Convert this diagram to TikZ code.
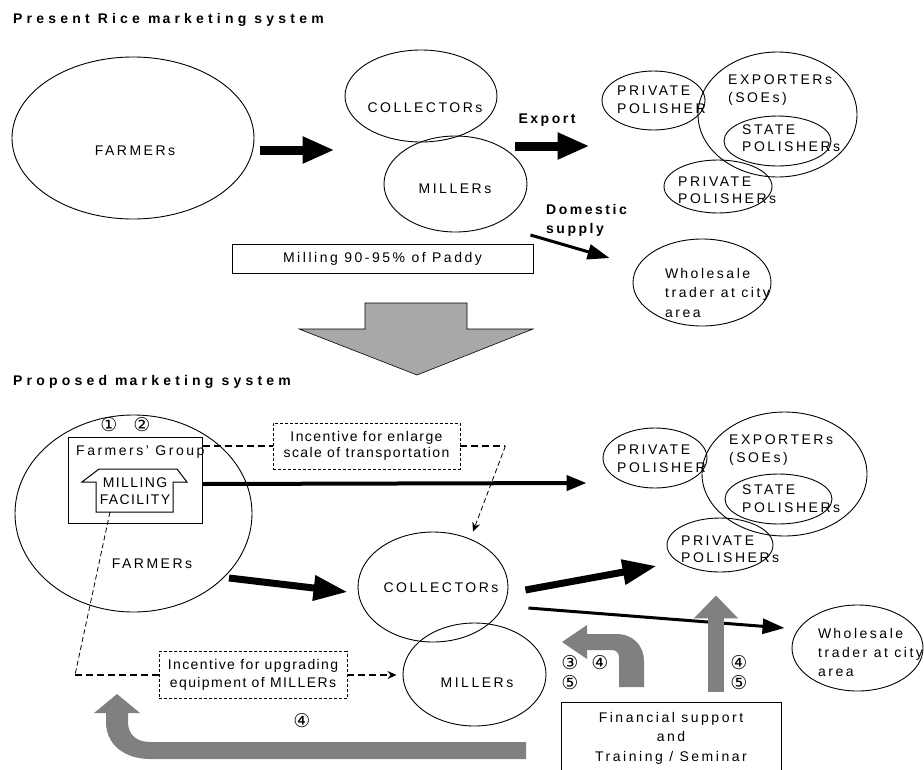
\documentclass[tikz,border=0pt]{standalone}
\usepackage{fontspec}
\setmainfont{Liberation Sans}[LetterSpace=18]
\newfontfamily\titlefont{Liberation Sans}[LetterSpace=30]
\newfontfamily\boxfont{Liberation Sans}[LetterSpace=10]
\newfontfamily\circfont{DejaVu Sans}
\usepackage{tikz}
\usetikzlibrary{positioning,calc,shapes.geometric,arrows.meta}
\definecolor{bargray}{RGB}{128,128,128}
\definecolor{hatchgray}{RGB}{168,168,168}
\tikzset{
  ell/.style={ellipse, draw, line width=0.9pt, inner sep=0pt},
  lbl/.style={inner sep=0pt, align=left, font=\fontsize{14}{18}\selectfont},
  boldlbl/.style={inner sep=0pt, align=left, font=\bfseries\fontsize{14}{19}\selectfont},
  ttl/.style={inner sep=0pt, anchor=base west, font=\titlefont\bfseries\fontsize{14}{16}\selectfont},
  circnum/.style={inner sep=0pt, text height=7pt, text depth=0pt, font=\circfont\fontsize{19}{19}\selectfont},
  solidbox/.style={draw, line width=1pt, inner sep=0pt},
  dbox/.style={draw, line width=0.8pt, dash pattern=on 3pt off 2pt, inner sep=0pt,
    align=center, font=\boxfont\fontsize{14}{16}\selectfont},
  dline/.style={line width=1.3pt, dash pattern=on 7pt off 4pt},
  dthin/.style={line width=0.8pt, dash pattern=on 5pt off 3pt},
  blockarrow/.style={line width=9pt, -{Triangle[width=25pt,length=32pt]}},
  midarrow/.style={line width=7pt, -{Triangle[width=24pt,length=34pt]}},
  thinarrow/.style={line width=3pt, -{Triangle[width=15pt,length=22pt]}},
  grayarrow/.style={line width=16pt, draw=bargray, -{Triangle[width=43pt,length=23pt]}}
}

\begin{document}
\begin{tikzpicture}[x=1pt,y=-1pt]
  \useasboundingbox (0,0) rectangle (924,769);

  % present system
  \node[ttl] (ttlA) at (13,23) {Present Rice m\kern2pt arketing system};
  \node[ell, minimum width=242, minimum height=162] (farmA) at (133,138) {};
  \node[lbl, anchor=base] (farmAt) at (135,155) {FARMERs};
  \node[ell, minimum width=152, minimum height=92] (collA) at (421,96) {};
  \node[lbl, anchor=base] (collAt) at (425,112) {COLLECTORs};
  \node[ell, minimum width=143, minimum height=96] (millA) at (455.5,184) {};
  \node[lbl, anchor=base] (millAt) at (455,193) {MILLERs};

  \node[ell, minimum width=103, minimum height=59] (ppA) at (653.5,100.5) {};
  \node[lbl, anchor=base west] (ppAt) at (617,113) {PRIVATE\\POLISHER};
  \node[ell, minimum width=159, minimum height=125] (expA) at (777.5,114.5) {};
  \node[lbl, anchor=base west] (expAt) at (728,102) {EXPORTERs\\(SOEs)};
  \node[ell, minimum width=107, minimum height=50] (stA) at (777.5,141) {};
  \node[lbl, anchor=base west, font=\fontsize{14}{17}\selectfont] (stAt) at (742,151) {STATE\\POLISHERs};
  \node[ell, minimum width=108, minimum height=53] (ppsA) at (718,186.5) {};
  \node[lbl, anchor=base west, font=\fontsize{14}{17}\selectfont] (ppsAt) at (678,203) {PRIVATE\\POLISHERs};
  \node[ell, minimum width=138, minimum height=87] (wsA) at (702,282.5) {};
  \node[lbl, anchor=base west, font=\fontsize{14}{19.5}\selectfont] (wsAt) at (665,317) {W\kern2pt holesale\\trader at city\\area};

  \node[boldlbl, anchor=base] (expLbl) at (547,123) {Export};
  \node[boldlbl, anchor=base west] (domLbl) at (546,233) {Domestic\\supply};
  \node[solidbox, lbl, minimum width=301, minimum height=29] (millbox) at (382.5,258.5) {Milling 90-95\% of Paddy};

  \draw[blockarrow] ([shift={(6,12)}]farmA.east) -- ([shift={(-10,54)}]collA.west);
  \draw[blockarrow] ([shift={(18,50)}]collA.east) -- ([shift={(-12,45.5)}]ppA.west);
  \draw[thinarrow] ([shift={(3,51)}]millA.east) -- ([shift={(-23,-24.5)}]wsA.west);

  % change arrow
  \filldraw[fill=hatchgray, draw=black, line width=0.6pt] (365,303) -- (467,303) -- (467,329)
    -- (533,329) -- (417,375) -- (299,329) -- (365,329) -- cycle;

  % proposed system
  \node[ttl] (ttlB) at (13,385) {Proposed m\kern2pt arketing system};
  \node[ell, minimum width=237, minimum height=197] (farmB) at (133.5,513.5) {};
  \node[lbl, anchor=base] (farmBt) at (152,568) {FARMERs};
  \node[solidbox, minimum width=134, minimum height=86] (fgroup) at (135,480) {};
  \node[lbl, anchor=base west] (fgroupt) at (76,455) {Farmers' Group};
  \node[circnum] (n1) at (109,428) {①};
  \node[circnum] (n2) at (142,428) {②};
  \draw[line width=1pt] (99,469) -- (177,469) -- (187,482) -- (173,482) -- (173,512)
    -- (96,512) -- (96,482) -- (82,482) -- cycle;
  \coordinate (mfbot) at (110,512);
  \node[lbl, align=center, font=\boxfont\fontsize{14}{17}\selectfont, anchor=base] (millfac) at (135,504) {MILLING\\FACILITY};

  \node[ell, minimum width=150, minimum height=110] (collB) at (433,587) {};
  \node[lbl, anchor=base] (collBt) at (441,592) {COLLECTORs};
  \node[ell, minimum width=143, minimum height=103] (millB) at (474.5,674.5) {};
  \node[lbl, anchor=base] (millBt) at (477,687) {MILLERs};

  \node[ell, minimum width=104, minimum height=60] (ppB) at (655,458) {};
  \node[lbl, anchor=base west] (ppBt) at (617,472) {PRIVATE\\POLISHER};
  \node[ell, minimum width=165, minimum height=124] (expB) at (784.5,474) {};
  \node[lbl, anchor=base west] (expBt) at (729,462) {EXPORTERs\\(SOEs)};
  \node[ell, minimum width=107, minimum height=50] (stB) at (778.5,499) {};
  \node[lbl, anchor=base west] (stBt) at (742,512) {STATE\\POLISHERs};
  \node[ell, minimum width=106, minimum height=54] (ppsB) at (720,545) {};
  \node[lbl, anchor=base west, font=\fontsize{14}{17}\selectfont] (ppsBt) at (681,562) {PRIVATE\\POLISHERs};
  \node[ell, minimum width=131, minimum height=86] (wsB) at (857.5,648) {};
  \node[lbl, anchor=base west, font=\fontsize{14}{19}\selectfont] (wsBt) at (818,676) {W\kern2pt holesale\\trader at city\\area};

  \node[dbox, minimum width=187, minimum height=46] (inc1) at (366.5,446) {Incentive for enlarge\\scale of transportation};
  \node[dbox, minimum width=188, minimum height=47, font=\boxfont\fontsize{14}{18}\selectfont] (inc2) at (253,675) {Incentive for upgrading\\equipment of MILLERs};
  \node[solidbox, lbl, align=center, font=\fontsize{14}{19.5}\selectfont, minimum width=220, minimum height=72] (fin) at (671,738) {Financial support\\and\\Training / Seminar};

  % flows
  \draw[line width=4pt, -{Triangle[width=15pt,length=20pt]}] ([yshift=-4pt]fgroup.east) -- ([shift={(-16,25)}]ppB.west);
  \draw[midarrow] ([shift={(95.5,64.5)}]farmB.center) -- ([shift={(-10,5)}]collB.west);
  \draw[midarrow] ([shift={(17,3)}]collB.east) -- ([shift={(-10,21)}]ppsB.west);
  \draw[thinarrow] ([shift={(20,21)}]collB.east) -- ([shift={(-7,-20)}]wsB.west);

  % incentives
  \draw[dline] (fgroup.east |- inc1.west) -- (inc1.west);
  \draw[dline] (inc1.east) -- ++(45,0) coordinate (bendA);
  \draw[dthin, -{Stealth[length=9pt,width=8pt]}] (bendA) -- ([xshift=40pt]collB.north);
  \coordinate (bendB) at (75,675);
  \draw[dthin] (mfbot) -- (bendB);
  \draw[dline] (bendB) -- (inc2.west);
  \draw[dline, -{Stealth[length=9pt,width=8pt]}, shorten >=6pt] (inc2.east) -- (inc2.east -| millB.west);

  % support
  \draw[grayarrow] ([shift={(45,-10)}]fin.north) -- ([shift={(-4,23)}]ppsB.south);
  \fill[bargray] (644,687) -- (644,662) .. controls (644,645) and (633,634) .. (616,634)
    -- (587,634) -- (587,625) -- (562,642) -- (587,659) -- (587,650) -- (612,650)
    .. controls (616,650) and (619,653) .. (619,657) -- (619,687) -- cycle;
  \fill[bargray] (526,742) -- (150,742) .. controls (137,742) and (128,735) .. (128,722)
    -- (128,713) -- (140,713) -- (117,694) -- (94,713) -- (106,713) -- (106,722)
    .. controls (106,745) and (125,759) .. (150,759) -- (526,759) -- cycle;
  \node[circnum] (n3) at (570,666) {③};
  \node[circnum] (n4a) at (600,666) {④};
  \node[circnum] (n5a) at (570,686) {⑤};
  \node[circnum] (n4b) at (739,666) {④};
  \node[circnum] (n5b) at (739,686) {⑤};
  \node[circnum] (n4c) at (302,724) {④};
\end{tikzpicture}
\end{document}
